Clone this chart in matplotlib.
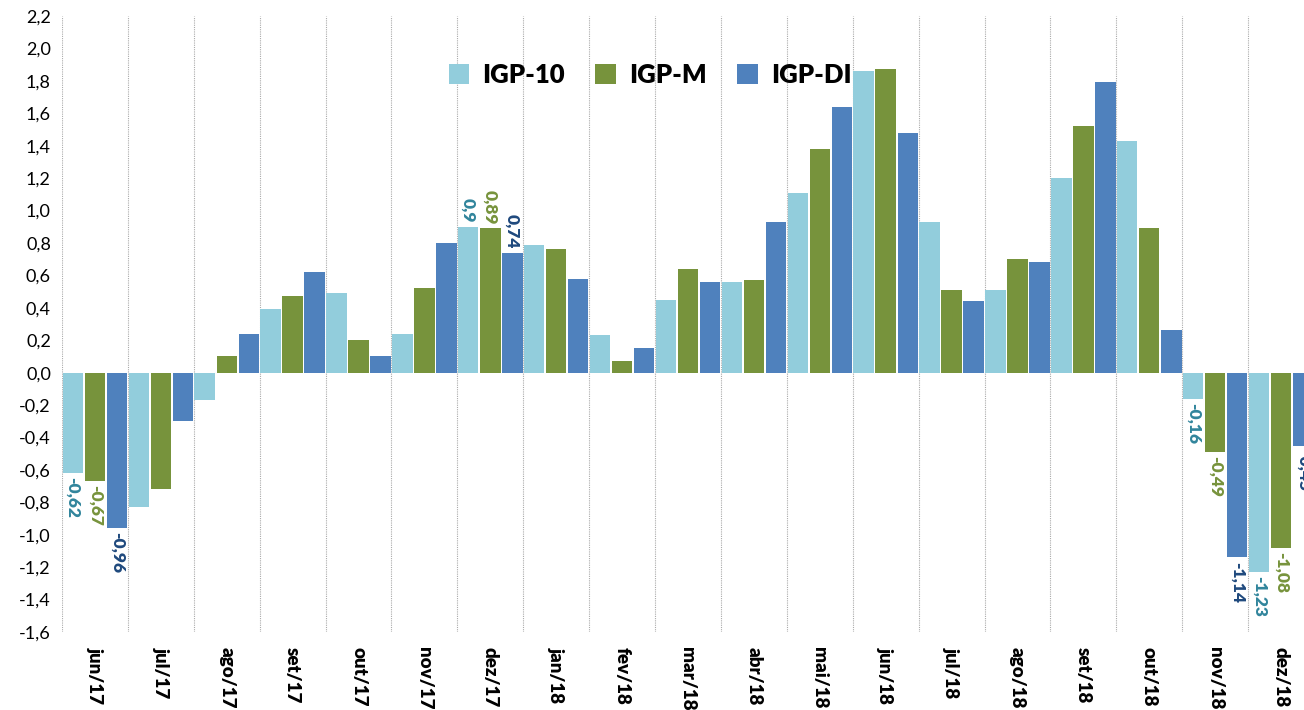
import matplotlib
matplotlib.use("Agg")
import matplotlib.pyplot as plt
import numpy as np
from matplotlib.ticker import FuncFormatter, MultipleLocator

plt.rcParams['font.family'] = ['Lato', 'DejaVu Sans']

months = ["jun/17", "jul/17", "ago/17", "set/17", "out/17", "nov/17", "dez/17",
          "jan/18", "fev/18", "mar/18", "abr/18", "mai/18", "jun/18", "jul/18",
          "ago/18", "set/18", "out/18", "nov/18", "dez/18"]
igp10 = [-0.62, -0.83, -0.17, 0.39, 0.49, 0.24, 0.90, 0.79, 0.23, 0.45, 0.56,
         1.11, 1.86, 0.93, 0.51, 1.20, 1.43, -0.16, -1.23]
igpm = [-0.67, -0.72, 0.10, 0.47, 0.20, 0.52, 0.89, 0.76, 0.07, 0.64, 0.57,
        1.38, 1.87, 0.51, 0.70, 1.52, 0.89, -0.49, -1.08]
igpdi = [-0.96, -0.30, 0.24, 0.62, 0.10, 0.80, 0.74, 0.58, 0.15, 0.56, 0.93,
         1.64, 1.48, 0.44, 0.68, 1.79, 0.26, -1.14, -0.45]
series_names = ["IGP-10", "IGP-M", "IGP-DI"]
labeled_months = ["jun/17", "dez/17", "nov/18", "dez/18"]

colors = ["#92CDDC", "#77933C", "#4F81BD"]
label_colors = ["#31859C", "#77933C", "#1F497D"]

fig = plt.figure(figsize=(13.04, 7.10), dpi=100)
ax = fig.add_axes([62/1304, 1 - 632/710, 1252/1304, 616/710])

x = np.arange(len(months))
w = 0.31
offsets = [-0.335, 0.0, 0.335]
all_series = [igp10, igpm, igpdi]


def fmt(v):
    s = f"{v:.2f}"
    if s.endswith("0"):
        s = s[:-1]
    return s.replace(".", ",")


for vals, name, col, lcol, off in zip(all_series, series_names, colors, label_colors, offsets):
    ax.bar(x + off, vals, width=w, color=col, label=name, zorder=3)
    for i, m in enumerate(months):
        if m in labeled_months:
            v = vals[i]
            if v < 0:
                ax.annotate(fmt(v), (x[i] + off, v), xytext=(0, -3), textcoords="offset points",
                            rotation=270, ha="center", va="top", color=lcol,
                            fontsize=12.5, fontweight="heavy", zorder=4)
            else:
                ax.annotate(fmt(v), (x[i] + off, v), xytext=(0, 3), textcoords="offset points",
                            rotation=270, ha="center", va="bottom", color=lcol,
                            fontsize=12.5, fontweight="heavy", zorder=4)

ax.set_xlim(-0.5, len(months) - 0.5)
ax.set_ylim(-1.6, 2.2)
ax.yaxis.set_major_locator(MultipleLocator(0.2))
ax.yaxis.set_major_formatter(FuncFormatter(lambda v, p: f"{v:.1f}".replace(".", ",").replace("-0,0", "0,0")))
ax.set_xticks(x)
ax.set_xticklabels(months, rotation=270, fontsize=13.5, fontweight="heavy")
ax.set_xticks(np.arange(-0.5, len(months), 1.0), minor=True)
ax.grid(True, which="minor", axis="x", color="#AAAAAA", linestyle=(0, (1, 1)), linewidth=0.8, zorder=0)
ax.tick_params(axis="x", which="both", length=0, pad=11)
ax.tick_params(axis="y", length=0, labelsize=13, pad=8)
for sp in ax.spines.values():
    sp.set_visible(False)

leg = ax.legend(loc="center", bbox_to_anchor=((650 - 62) / 1252, (632 - 75) / 616), ncol=3, frameon=False,
                prop={"weight": "heavy", "size": 18.5}, handlelength=0.8, handleheight=0.8,
                handletextpad=0.5, columnspacing=1.2)

fig.savefig("out.png", dpi=100, facecolor="white")
